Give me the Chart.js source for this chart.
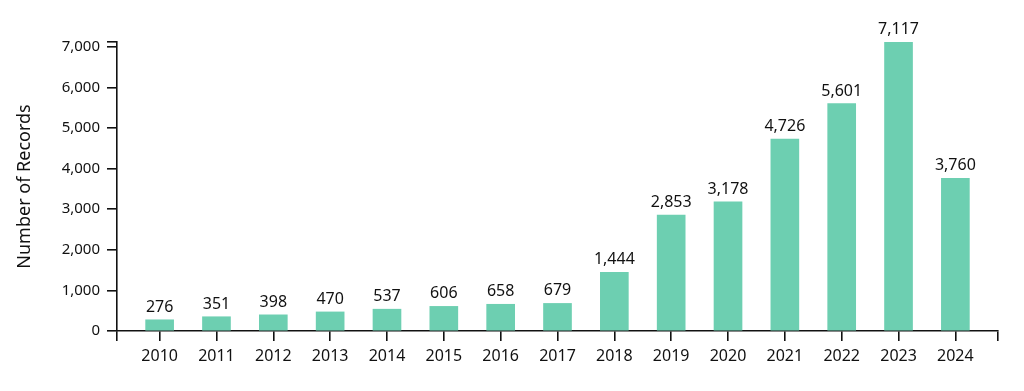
<!DOCTYPE html>
<html><head><meta charset="utf-8">
<script src="https://cdn.jsdelivr.net/npm/chart.js@4"></script>
<style>html,body{margin:0;padding:0;background:#fff}#wrap{width:1024px;height:391px}</style>
</head><body><div id="wrap"><canvas id="c" width="1024" height="391"></canvas></div>
<script>
const years = [2010,2011,2012,2013,2014,2015,2016,2017,2018,2019,2020,2021,2022,2023,2024];
const records = [276,351,398,470,537,606,658,679,1444,2853,3178,4726,5601,7117,3760];
const yTicks = [0,1000,2000,3000,4000,5000,6000,7000];

const fontFam = '"Noto Sans", "Open Sans", sans-serif';
const labelPlugin = {
  id:'vals',
  afterDatasetsDraw(chart){
    const ctx = chart.ctx;
    const meta = chart.getDatasetMeta(0);
    ctx.save();
    ctx.font = '16px ' + fontFam;
    ctx.fillStyle = '#111';
    ctx.textAlign = 'center';
    ctx.textBaseline = 'alphabetic';
    meta.data.forEach((bar,i)=>{
      ctx.fillText(records[i].toLocaleString('en-US'), bar.x, bar.y - 8);
    });
    ctx.restore();
  }
};

new Chart(document.getElementById('c'), {
  type:'bar',
  data:{ datasets:[{ data: years.map((y,i)=>({x:y, y:records[i]})),
    backgroundColor:'rgb(109,207,177)', borderWidth:0, barThickness:28 }]},
  options:{
    responsive:false, animation:false,
    layout:{padding:{top:42,right:26,left:0,bottom:0}},
    plugins:{legend:{display:false}, tooltip:{enabled:false}},
    scales:{
      x:{ type:'linear', min:2009.25, max:2024.75, offset:false,
        afterBuildTicks(s){ s.ticks = [2009.25].concat(years).concat([2024.75]).map(v=>({value:v})); },
        afterFit(s){ s.height = 60; },
        border:{display:true,color:'#111',width:1.6},
        grid:{display:true, offset:false, drawOnChartArea:false, drawTicks:true, tickLength:10, color:'#111', lineWidth:1.6},
        ticks:{ autoSkip:false, maxRotation:0, color:'#111', font:{family:fontFam,size:16}, padding:6,
          callback:(v)=> Number.isInteger(v) ? String(v) : '' }
      },
      y:{ min:0, max:7117,
        afterBuildTicks(s){ s.ticks = yTicks.concat([7117]).map(v=>({value:v})); },
        afterFit(s){ s.width = 117; },
        border:{display:true,color:'#111',width:1.6},
        grid:{display:true, drawOnChartArea:false, drawTicks:true, tickLength:10, color:'#111', lineWidth:1.6},
        ticks:{ color:'#111', font:{family:fontFam,size:15}, padding:7,
          callback:(v)=> yTicks.includes(v) ? v.toLocaleString('en-US') : '' },
        title:{display:true, text:'Number of Records', color:'#111', font:{family:fontFam,size:18}, padding:{top:14,bottom:0}}
      }
    }
  },
  plugins:[labelPlugin]
});
</script></body></html>
